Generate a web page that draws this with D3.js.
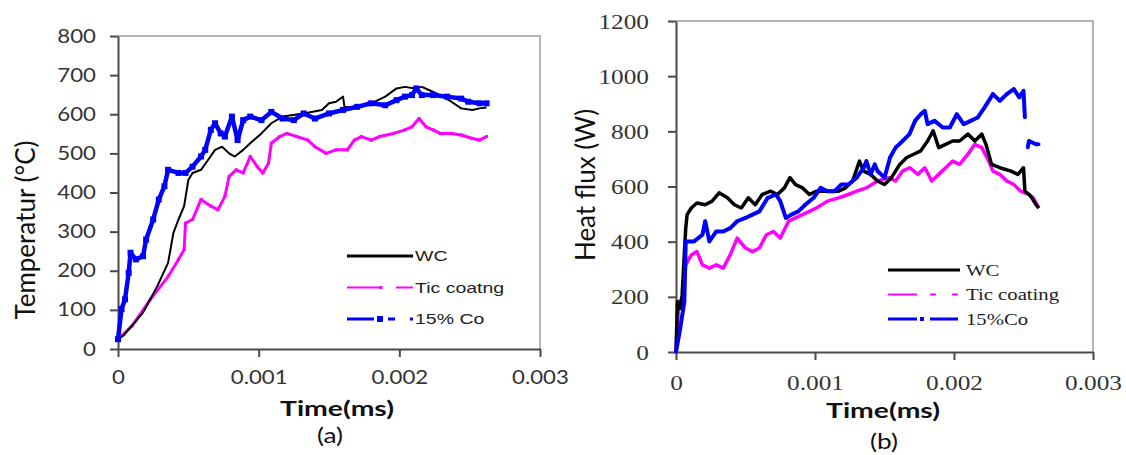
<!DOCTYPE html>
<html>
<head>
<meta charset="utf-8">
<script src="https://cdn.jsdelivr.net/npm/d3@7"></script>
<style>
  body { margin: 0; background: #fff; }
  svg { display: block; }
</style>
</head>
<body>
<svg id="fig" width="1126" height="455"></svg>
<script>
// ---- axis ticks ----
const timeTicks = [0, 0.001, 0.002, 0.003];
const tempTicks = [0, 100, 200, 300, 400, 500, 600, 700, 800];
const fluxTicks = [0, 200, 400, 600, 800, 1000, 1200];

// ---- legend labels ----
const tempNames = ["WC", "Tic coatng", "15% Co"];
const fluxNames = ["WC", "Tic coating", "15%Co"];

// ---- (a) temperature vs time, [time, °C] ----
const tempWC = [
  [0, 25], [0.00004, 35], [0.0001, 60], [0.000178, 93], [0.00028, 161], [0.000356, 220],
  [0.000394, 297], [0.00043, 331], [0.00047, 365], [0.0005, 432], [0.00053, 450],
  [0.00059, 458], [0.00064, 483], [0.00069, 509], [0.00074, 517], [0.00079, 500],
  [0.00083, 492], [0.00089, 509], [0.00094, 526], [0.00102, 551], [0.00109, 577],
  [0.00117, 594], [0.00132, 602], [0.00145, 611], [0.0015, 628], [0.00155, 632],
  [0.0016, 645], [0.00161, 619], [0.0017, 615], [0.0018, 628], [0.0019, 645],
  [0.00198, 666], [0.00204, 670], [0.00211, 666], [0.00216, 670], [0.00221, 662],
  [0.00229, 649], [0.00237, 632], [0.00244, 615], [0.00252, 611], [0.00257, 615], [0.00262, 617]
];
const tempTiC = [
  [0, 25], [0.0001, 59], [0.00023, 127], [0.00036, 187], [0.00043, 229], [0.00047, 254],
  [0.00048, 322], [0.00053, 331], [0.00059, 382], [0.00066, 365], [0.00071, 356],
  [0.00076, 390], [0.00079, 441], [0.00084, 458], [0.00089, 450], [0.00094, 492],
  [0.00099, 466], [0.00103, 450], [0.00107, 475], [0.00109, 526], [0.00115, 543],
  [0.0012, 551], [0.00127, 543], [0.00135, 534], [0.0014, 517], [0.00148, 500],
  [0.00155, 509], [0.00163, 509], [0.00168, 534], [0.00173, 543], [0.0018, 534],
  [0.00186, 543], [0.00196, 551], [0.00204, 560], [0.00209, 568], [0.00214, 589],
  [0.00219, 568], [0.00224, 560], [0.00229, 551], [0.00237, 551], [0.00244, 547],
  [0.00252, 538], [0.00257, 534], [0.00262, 543]
];
const tempCo = [
  [0, 25], [0.000025, 102], [0.00005, 127], [0.000076, 195], [0.000089, 246],
  [0.000127, 229], [0.000178, 237], [0.0002, 280], [0.00025, 331], [0.00029, 382],
  [0.00033, 416], [0.000356, 458], [0.00043, 450], [0.00048, 450], [0.00053, 466],
  [0.00059, 492], [0.00062, 509], [0.00066, 560], [0.00069, 577], [0.00073, 551],
  [0.00076, 543], [0.00081, 594], [0.00085, 534], [0.00089, 585], [0.00094, 594],
  [0.00102, 585], [0.00109, 606], [0.00117, 589], [0.00125, 585], [0.00132, 602],
  [0.0014, 589], [0.0015, 602], [0.0016, 611], [0.0017, 619], [0.0018, 628],
  [0.0019, 623], [0.00198, 636], [0.00204, 645], [0.00209, 649], [0.00212, 666],
  [0.00216, 649], [0.00224, 649], [0.00234, 645], [0.00244, 640], [0.00249, 632],
  [0.00257, 628], [0.00262, 628]
];

// ---- (b) heat flux vs time, [time, W] ----
const fluxWC = [
  [0, 0], [0.00001, 182], [0.00003, 158], [0.000044, 206], [0.00007, 449], [0.00008, 498],
  [0.00011, 522], [0.00015, 540], [0.00021, 534], [0.00026, 547], [0.00031, 577],
  [0.00037, 559], [0.00042, 534], [0.00047, 522], [0.00052, 559], [0.00057, 534],
  [0.00062, 571], [0.00068, 583], [0.00073, 571], [0.00078, 595], [0.00082, 632],
  [0.00086, 607], [0.00091, 595], [0.00096, 571], [0.00101, 583], [0.00109, 583],
  [0.00117, 583], [0.00122, 595], [0.00127, 620], [0.00132, 692], [0.00135, 656],
  [0.0014, 644], [0.00145, 620], [0.0015, 607], [0.00155, 632], [0.00161, 680],
  [0.00166, 705], [0.00171, 717], [0.00176, 729], [0.00181, 765], [0.00185, 802],
  [0.00189, 741], [0.00194, 753], [0.00199, 765], [0.00204, 765], [0.0021, 790],
  [0.00215, 765], [0.0022, 790], [0.00223, 753], [0.00227, 680], [0.00233, 668],
  [0.00241, 656], [0.00246, 644], [0.0025, 668], [0.00251, 583], [0.00254, 571],
  [0.00256, 559], [0.00259, 534], [0.00261, 522]
];
const fluxTiC = [
  [0, 0], [0.00002, 182], [0.00005, 194], [0.00007, 316], [0.00011, 352], [0.00015, 364],
  [0.00019, 316], [0.00024, 304], [0.00029, 316], [0.00034, 304], [0.00039, 352],
  [0.00044, 413], [0.0005, 377], [0.00055, 364], [0.0006, 377], [0.00065, 425],
  [0.0007, 437], [0.00075, 413], [0.00081, 474], [0.00086, 486], [0.00091, 498],
  [0.00096, 510], [0.00101, 522], [0.00109, 547], [0.00117, 559], [0.00124, 571],
  [0.0013, 583], [0.00137, 595], [0.00145, 620], [0.00153, 632], [0.00158, 620],
  [0.00163, 656], [0.00168, 668], [0.00174, 644], [0.00179, 668], [0.00184, 620],
  [0.00189, 644], [0.00194, 668], [0.00199, 692], [0.00204, 680], [0.0021, 717],
  [0.00215, 753], [0.0022, 741], [0.00225, 692], [0.00228, 656], [0.00233, 644],
  [0.00238, 620], [0.00243, 607], [0.00248, 583], [0.00254, 571], [0.00257, 559], [0.00261, 522]
];
const fluxCo = [
  [0, 0], [0.00003, 85], [0.00006, 182], [0.00007, 401], [0.0001, 401], [0.00013, 401],
  [0.00019, 425], [0.00021, 474], [0.00024, 401], [0.00029, 437], [0.00034, 437],
  [0.00039, 449], [0.00044, 474], [0.0005, 486], [0.00055, 498], [0.0006, 510],
  [0.00066, 559], [0.00072, 571], [0.00075, 547], [0.00079, 486], [0.00083, 498],
  [0.00088, 510], [0.00093, 534], [0.00099, 559], [0.00104, 595], [0.00109, 583],
  [0.00114, 583], [0.00119, 607], [0.00124, 607], [0.0013, 632], [0.00135, 668],
  [0.00137, 692], [0.0014, 644], [0.00143, 680], [0.00145, 656], [0.0015, 632],
  [0.00154, 705], [0.00158, 741], [0.00163, 765], [0.00168, 790], [0.00172, 838],
  [0.00176, 862], [0.00179, 874], [0.00181, 826], [0.00186, 838], [0.00192, 814],
  [0.00197, 814], [0.00202, 862], [0.00207, 826], [0.00212, 838], [0.00217, 850],
  [0.00222, 887], [0.00228, 935], [0.00233, 911], [0.00238, 935], [0.00243, 953],
  [0.00247, 923], [0.0025, 947], [0.00251, 850], [0.00252, null],
  [0.00253, 741], [0.00254, 765], [0.00259, 753], [0.00261, 753]
];

const svg = d3.select("#fig");

const COLORS = { wc: "#000000", tic: "#ff00ff", co: "#0000ff" };

// Text drawn with a horizontal stretch around its anchor point
function stretchedText(g, x, y, str, opts) {
  return g.append("text")
    .attr("transform", `translate(${x},${y}) rotate(${opts.rotate || 0}) scale(${opts.sx || 1},1)`)
    .attr("text-anchor", opts.anchor || "middle")
    .attr("dominant-baseline", "central")
    .style("font-family", opts.family)
    .style("font-size", opts.size + "px")
    .style("font-weight", opts.weight || "normal")
    .attr("fill", opts.fill || "#222")
    .text(str);
}

function drawPanel(cfg) {
  const g = svg.append("g");
  const x = d3.scaleLinear().domain([0, 0.003]).range([cfg.box.left, cfg.box.right]);
  const y = d3.scaleLinear().domain([0, cfg.yMax]).range([cfg.box.bottom, cfg.box.top]);

  // plot-area frame (top and right edges)
  g.append("path")
    .attr("d", `M${cfg.box.left},${cfg.box.top}H${cfg.box.right}V${cfg.box.bottom}`)
    .attr("fill", "none").attr("stroke", "#b4b4b4").attr("stroke-width", 2);

  const fmtX = d => d === 0 ? "0" : d3.format(".3f")(d);
  const fmtY = d => String(d);

  const xAxis = g.append("g")
    .attr("transform", `translate(0,${cfg.box.bottom})`)
    .call(d3.axisBottom(x).tickValues(timeTicks).tickFormat(fmtX).tickSize(8).tickSizeOuter(0).tickPadding(cfg.xPad));
  const yAxis = g.append("g")
    .attr("transform", `translate(${cfg.box.left},0)`)
    .call(d3.axisLeft(y).tickValues(cfg.yTicks).tickFormat(fmtY).tickSize(8).tickSizeOuter(0).tickPadding(cfg.yPad));

  [xAxis, yAxis].forEach(a => {
    a.select(".domain").attr("stroke", "#4a4a4a").attr("stroke-width", 2);
    a.selectAll(".tick line").attr("stroke", "#4a4a4a").attr("stroke-width", 2);
    a.selectAll(".tick text")
      .style("font-family", cfg.tickFamily)
      .style("font-size", cfg.tickSize + "px")
      .attr("fill", "#333")
      .attr("transform", function () {
        const tx = +this.getAttribute("x") || 0;
        return `translate(${tx},0) scale(${cfg.tickSx},1)`;
      })
      .attr("x", 0);
  });

  const line = d3.line()
    .defined(d => d[1] !== null)
    .x(d => x(d[0])).y(d => y(d[1]));

  cfg.series.forEach(s => {
    g.append("path")
      .datum(s.data)
      .attr("d", line)
      .attr("fill", "none")
      .attr("stroke", s.color)
      .attr("stroke-width", s.width)
      .attr("stroke-linejoin", "round");
    if (s.marker) {
      g.selectAll(null)
        .data(s.data.filter(d => d[1] !== null))
        .enter().append("rect")
        .attr("x", d => x(d[0]) - s.marker / 2)
        .attr("y", d => y(d[1]) - s.marker / 2)
        .attr("width", s.marker).attr("height", s.marker)
        .attr("fill", s.color);
    }
  });

  // axis titles
  stretchedText(g, cfg.xTitle.x, cfg.xTitle.y, "Time(ms)",
    { family: "Lato", size: 21, weight: "bold", sx: 1.35, fill: "#111" });
  stretchedText(g, cfg.tagPos.x, cfg.tagPos.y, cfg.tag,
    { family: "Lato", size: 21, sx: 1.25, fill: "#111" });
  stretchedText(g, cfg.yTitle.x, cfg.yTitle.y, cfg.yTitle.text,
    { family: "Lato", size: cfg.yTitle.size, rotate: -90, sx: 1.0, fill: "#111" });

  // legend
  const lg = g.append("g");
  cfg.legend.forEach((item, i) => {
    const ly = cfg.legendPos.y + i * cfg.legendPos.step;
    const x0 = cfg.legendPos.x;
    item.segs.forEach(([a, b]) => {
      lg.append("line")
        .attr("x1", x0 + a).attr("x2", x0 + b).attr("y1", ly).attr("y2", ly)
        .attr("stroke", item.color).attr("stroke-width", item.width);
    });
    if (item.mark) {
      lg.append("rect")
        .attr("x", x0 + item.mark - item.markSize / 2).attr("y", ly - item.markSize / 2)
        .attr("width", item.markSize).attr("height", item.markSize)
        .attr("fill", item.color);
    }
    stretchedText(lg, x0 + cfg.legendPos.textDx, ly, item.name,
      { family: cfg.legendFamily, size: cfg.legendSize, anchor: "start", sx: cfg.legendSx, fill: "#222" });
  });
}

drawPanel({
  box: { left: 118, right: 540, top: 36, bottom: 349 },
  yMax: 800, yTicks: tempTicks,
  tickFamily: "Lato", tickSize: 19, tickSx: 1.17, xPad: 14, yPad: 14,
  xTitle: { x: 337, y: 408 }, tag: "(a)", tagPos: { x: 330, y: 435 },
  yTitle: { x: 25, y: 230, text: "Temperatur (°C)", size: 26 },
  series: [
    { data: tempTiC, color: COLORS.tic, width: 3, marker: 3 },
    { data: tempWC, color: COLORS.wc, width: 2 },
    { data: tempCo, color: COLORS.co, width: 4.5, marker: 6 }
  ],
  legendFamily: "Liberation Sans", legendSize: 15, legendSx: 1.3,
  legendPos: { x: 347, y: 256, step: 31.5, textDx: 68 },
  legend: [
    { name: tempNames[0], color: COLORS.wc, width: 3, segs: [[0, 66]] },
    { name: tempNames[1], color: COLORS.tic, width: 2, segs: [[0, 33], [49, 66]], mark: 34, markSize: 3 },
    { name: tempNames[2], color: COLORS.co, width: 3, segs: [[0, 27], [41, 48], [63, 66]], mark: 33, markSize: 6 }
  ]
});

drawPanel({
  box: { left: 676, right: 1093, top: 21, bottom: 352 },
  yMax: 1200, yTicks: fluxTicks,
  tickFamily: "Liberation Serif", tickSize: 22, tickSx: 1.15, xPad: 14, yPad: 19,
  xTitle: { x: 883, y: 410 }, tag: "(b)", tagPos: { x: 884, y: 441 },
  yTitle: { x: 585, y: 185, text: "Heat flux (W)", size: 26 },
  series: [
    { data: fluxTiC, color: COLORS.tic, width: 3.5 },
    { data: fluxWC, color: COLORS.wc, width: 3.5 },
    { data: fluxCo, color: COLORS.co, width: 4, marker: 3 }
  ],
  legendFamily: "Liberation Serif", legendSize: 17, legendSx: 1.22,
  legendPos: { x: 888, y: 270, step: 24.5, textDx: 78 },
  legend: [
    { name: fluxNames[0], color: COLORS.wc, width: 3, segs: [[0, 72]] },
    { name: fluxNames[1], color: COLORS.tic, width: 2, segs: [[0, 29], [42, 48], [64, 70]] },
    { name: fluxNames[2], color: COLORS.co, width: 3, segs: [[0, 29], [42, 70]], mark: 34, markSize: 4 }
  ]
});
</script>
</body>
</html>
